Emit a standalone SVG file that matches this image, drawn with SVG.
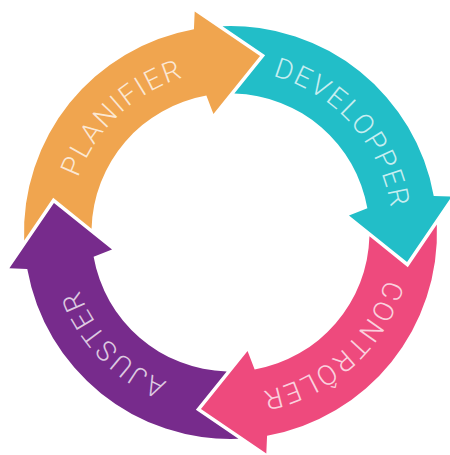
<svg xmlns="http://www.w3.org/2000/svg" width="450" height="455" viewBox="0 0 450 455">
<style>
.lbl{font-family:Roboto,"Open Sans","Liberation Sans",sans-serif;font-weight:300;font-size:28px;letter-spacing:2px;fill:#fff;fill-opacity:0.75;text-anchor:middle}
</style>
<defs>
<path id="arrow" d="M -206.35,7.95 A 206.5 206.5 0 0 1 -36.57,-203.24 L -35.81,-221.12 L 29.54,-176.55 L -17.07,-118.48 L -24.14,-136.89 A 139 139 0 0 0 -138.94,-3.84 L -177.31,-34.64 Z"/>
<path id="ring" d="M 230.5,70.5 A 162 162 0 1 1 230.5,394.5 A 162 162 0 1 1 230.5,70.5"/>
</defs>
<rect width="450" height="455" fill="#fff"/>
<g id="planifier">
<use href="#arrow" transform="translate(230.5,232.5)" fill="#F0A54F"/>
<text class="lbl"><textPath href="#ring" startOffset="895">PLANIFIER</textPath></text>
</g>
<g id="developper">
<use href="#arrow" transform="translate(230.5,232.5) rotate(90)" fill="#22BEC8"/>
<text class="lbl"><textPath href="#ring" startOffset="137">DEVELOPPER</textPath></text>
</g>
<g id="controler">
<use href="#arrow" transform="translate(230.5,232.5) rotate(180)" fill="#EE4A7D"/>
<text class="lbl"><textPath href="#ring" startOffset="390">CONTRÔLER</textPath></text>
</g>
<g id="ajuster">
<use href="#arrow" transform="translate(230.5,232.5) rotate(270)" fill="#772B8C"/>
<text class="lbl"><textPath href="#ring" startOffset="640">AJUSTER</textPath></text>
</g>
</svg>
